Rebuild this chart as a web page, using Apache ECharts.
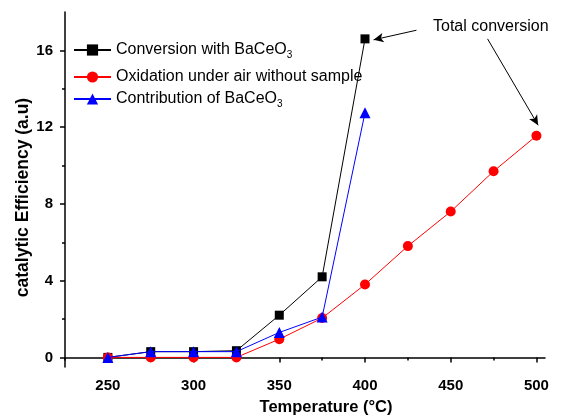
<!DOCTYPE html>
<html>
<head>
<meta charset="utf-8">
<script src="https://cdn.jsdelivr.net/npm/echarts@6/dist/echarts.min.js"></script>
<style>
  html, body { margin: 0; padding: 0; background: #fff; }
  #chart { width: 562px; height: 417px; }
</style>
</head>
<body>
<div id="chart"></div>
<script>
// data
const tempAll = [250, 275, 300, 325, 350, 375, 400, 425, 450, 475, 500];
const withBaCeO3 = [0, 0.3, 0.3, 0.35, 2.2, 4.2, 16.6];
const underAir = [0, 0, 0, 0, 0.95, 2.05, 3.8, 5.8, 7.6, 9.7, 11.55];
const contribution = [0, 0.3, 0.3, 0.3, 1.3, 2.1, 12.75];

const xMajor = [250, 300, 350, 400, 450, 500];
const xMinor = [225, 275, 325, 375, 425, 475];
const yMajor = [0, 4, 8, 12, 16];
const yMinor = [2, 6, 10, 14];

const seriesNames = [
  "Conversion with BaCeO3",
  "Oxidation under air without sample",
  "Contribution of BaCeO3"
];

const toPairs = (vals) => vals.map((v, i) => [tempAll[i], v]);

const FONT = "Liberation Sans, Arial, sans-serif";
const chart = echarts.init(document.getElementById("chart"));

// legend label with subscript 3
const legendFmt = (name) => {
  if (name.endsWith("BaCeO3")) {
    return "{t|" + name.slice(0, -1) + "}{s|3}";
  }
  return "{t|" + name + "}";
};
const legendRich = {
  t: { fontSize: 16, fontFamily: FONT, color: "#000" },
  s: { fontSize: 10, fontFamily: FONT, color: "#000", padding: [10, 0, 0, 0] }
};
const mkLegend = (name, top) => ({
  data: [name],
  left: 73,
  top: top,
  padding: 0,
  itemWidth: 37,
  itemHeight: 14,
  itemGap: 6,
  selectedMode: false,
  formatter: legendFmt,
  textStyle: { rich: legendRich }
});

const axisLine = { show: true, lineStyle: { color: "#000", width: 1.5 } };
const boldLabel = { fontSize: 15, fontWeight: "bold", fontFamily: FONT, color: "#000" };

const option = {
  animation: false,
  grid: { left: 65, top: 12, right: 17, bottom: 50, outerBoundsMode: "none", containLabel: false },
  legend: [
    mkLegend(seriesNames[0], 42),
    mkLegend(seriesNames[1], 69),
    mkLegend(seriesNames[2], 91)
  ],
  xAxis: [
    {
      type: "value",
      min: 225,
      max: 505,
      name: "Temperature (°C)",
      nameLocation: "middle",
      nameGap: 32,
      nameMoveOverlap: false,
      nameTextStyle: { ...boldLabel, fontSize: 16.5, padding: [0, 0, 0, 42] },
      axisLine: axisLine,
      axisTick: { show: true, inside: false, length: 5, customValues: xMajor, lineStyle: { color: "#000", width: 1.5 } },
      axisLabel: { customValues: xMajor, margin: 11, ...boldLabel },
      splitLine: { show: false }
    },
    {
      type: "value",
      min: 225,
      max: 505,
      position: "bottom",
      axisLine: { show: false },
      axisTick: { show: true, length: 3, customValues: xMinor, lineStyle: { color: "#000", width: 1.5 } },
      axisLabel: { show: false },
      splitLine: { show: false }
    }
  ],
  yAxis: [
    {
      type: "value",
      min: -0.5,
      max: 18,
      name: "catalytic Efficiency (a.u)",
      nameLocation: "middle",
      nameGap: 33,
      nameMoveOverlap: false,
      nameTextStyle: { ...boldLabel, fontSize: 17.5, padding: [0, 16, 0, 0] },
      axisLine: axisLine,
      axisTick: { show: true, length: 5, customValues: yMajor, lineStyle: { color: "#000", width: 1.5 } },
      axisLabel: { customValues: yMajor, margin: 12, ...boldLabel },
      splitLine: { show: false }
    },
    {
      type: "value",
      min: -0.5,
      max: 18,
      position: "left",
      axisLine: { show: false },
      axisTick: { show: true, length: 3, customValues: yMinor, lineStyle: { color: "#000", width: 1.5 } },
      axisLabel: { show: false },
      splitLine: { show: false }
    }
  ],
  graphic: [
    {
      type: "text",
      left: 433,
      top: 19,
      style: { text: "Total conversion", fontSize: 16, fontFamily: FONT, fill: "#000" }
    }
  ],
  series: [
    {
      name: seriesNames[0],
      type: "line",
      data: toPairs(withBaCeO3),
      symbol: "rect",
      symbolSize: 9,
      itemStyle: { color: "#000" },
      lineStyle: { color: "#000", width: 1 },
      z: 2,
      markLine: {
        silent: true,
        symbol: ["none", "arrow"],
        symbolSize: [7, 10],
        label: { show: false },
        lineStyle: { color: "#000", width: 1, type: "solid" },
        data: [
          [{ coord: [430, 17.05] }, { coord: [405, 16.55] }],
          [{ coord: [471.5, 16.6] }, { coord: [501, 12.1] }]
        ]
      }
    },
    {
      name: seriesNames[1],
      type: "line",
      data: toPairs(underAir),
      symbol: "circle",
      symbolSize: 10,
      itemStyle: { color: "#ff0000" },
      lineStyle: { color: "#ff0000", width: 1 },
      z: 3
    },
    {
      name: seriesNames[2],
      type: "line",
      data: toPairs(contribution),
      symbol: "triangle",
      symbolSize: 11,
      itemStyle: { color: "#0000ff" },
      lineStyle: { color: "#0000ff", width: 1 },
      z: 4
    }
  ]
};

chart.setOption(option);
</script>
</body>
</html>
